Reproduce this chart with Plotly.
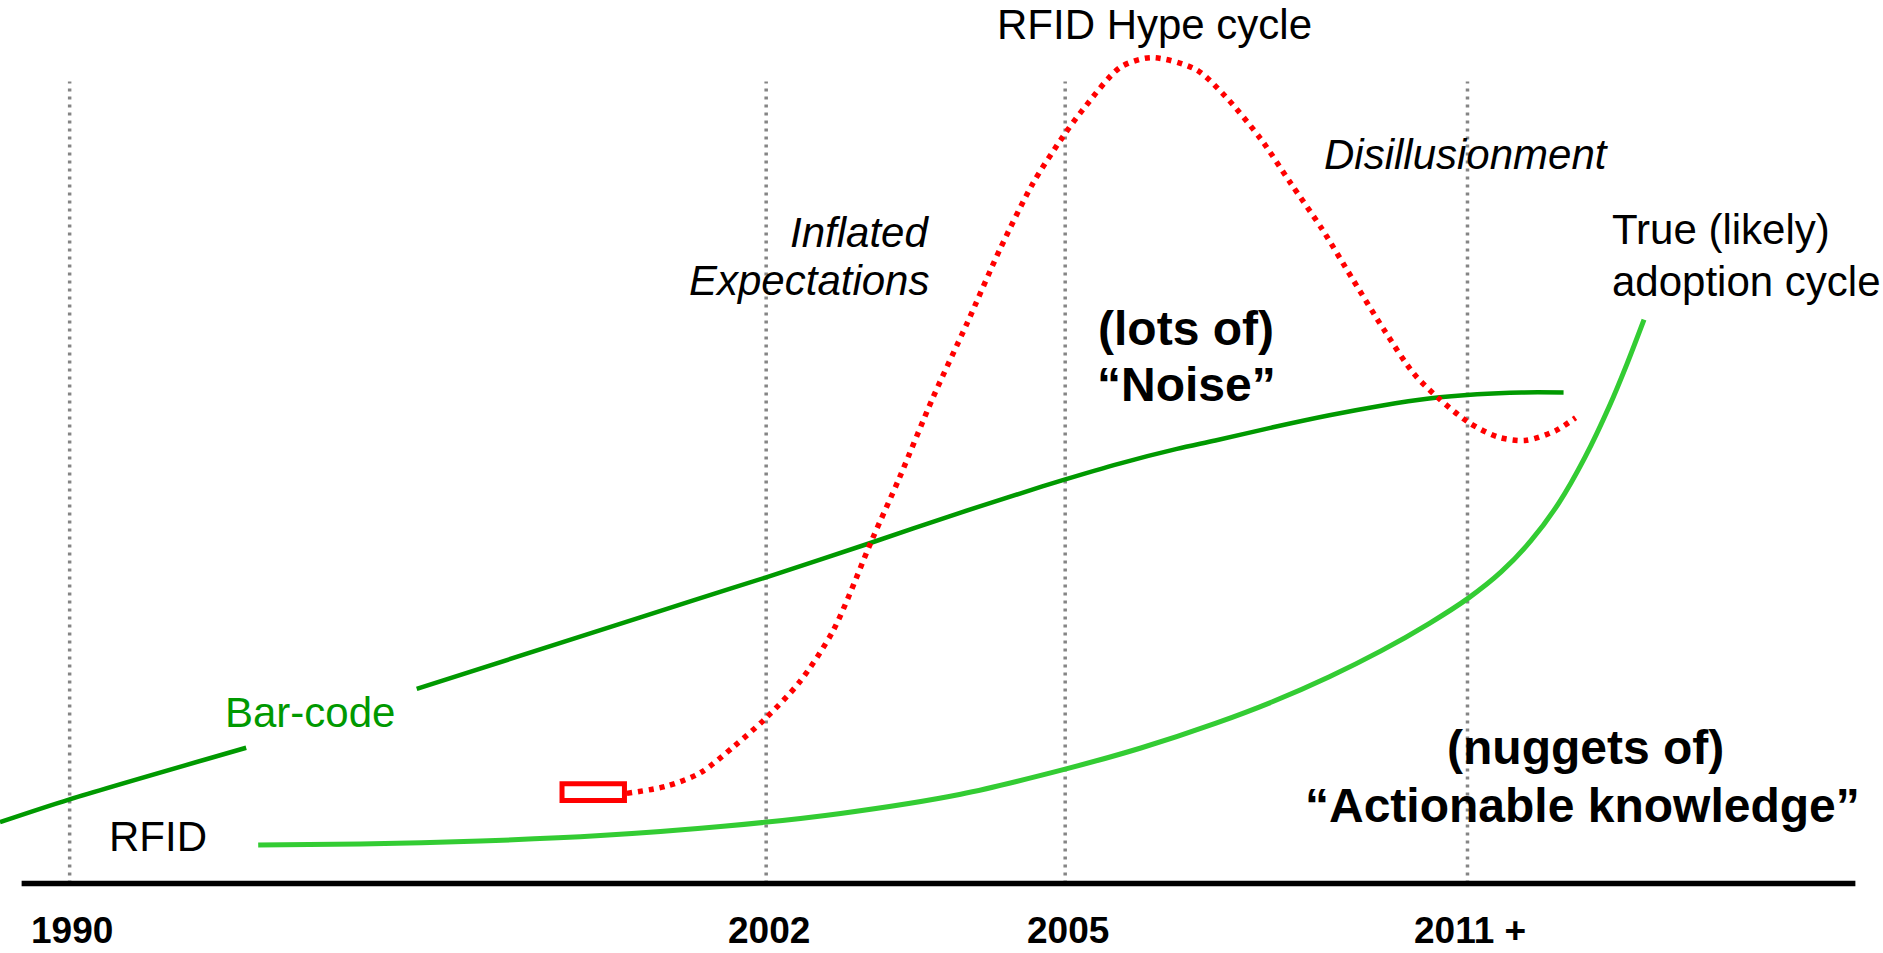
import plotly.graph_objects as go

# ---- timeline (x positions along the slide's time axis) ----
tick_pos = [58, 638, 887, 1222]
tick_labels = ["1990", "2002", "2005", "2011 +"]

# ---- Bar-code adoption curve (gap where its label sits) ----
barcode_x = [0, 58, 205, None, 347, 500, 578, 638, 726, 800, 850, 885, 933, 980, 1012, 1060, 1107,
             1150, 1190, 1230, 1267, 1302]
barcode_y = [109, 128, 171, None, 220, 269, 294, 313, 342, 367, 383, 394, 408, 420, 427, 438, 448,
             456, 462, 465.5, 467, 467]

# ---- RFID hype cycle (red dotted) ----
hype_x = [522, 555, 583, 611, 637, 666, 694, 726, 749, 777, 805, 833, 860, 885, 902, 933, 959, 996,
          1021, 1050, 1075, 1101, 1126, 1152, 1177, 1197, 1223, 1247, 1270, 1295, 1312]
hype_y = [133, 139, 150, 172, 195, 226, 269, 344, 396, 463, 524, 587, 641, 680, 703, 738, 746, 736,
          713, 678, 641, 603, 562, 520, 483, 463, 442, 430, 427, 435, 446]

# ---- RFID true (likely) adoption cycle (light green) ----
adopt_x = [215, 300, 400, 500, 600, 700, 800, 887, 950, 1012, 1060, 1107, 1150, 1190, 1223, 1250,
           1275, 1298, 1320, 1340, 1355, 1369]
adopt_y = [90, 90.8, 93.3, 97.8, 105.3, 116.3, 132.3, 153.2, 170.8, 191.3, 209.5, 230.2, 251.7, 274.5,
           295.9, 317.5, 343.7, 374.8, 413.3, 455.3, 491.3, 527.7]

# ---- hype-cycle start marker box ----
start_box_x = [468, 520]
start_box_y = [127, 141]

# ---- frame values ----
x_range = [0, 1568]
y_range = [0, 794]
baseline_level = 58
baseline_x = [18, 1545]
guide_top = 726

# ---- text labels: (x, y, text, xanchor, kind) ----
labels = [
    (961, 774, "RFID Hype cycle", "center", "regular"),
    (1221, 665.5, "Disillusionment", "center", "italic"),
    (775, 600.5, "Inflated", "right", "italic"),
    (775, 560.5, "Expectations", "right", "italic"),
    (1341, 603, "True (likely)", "left", "regular"),
    (1341, 559.5, "adoption cycle", "left", "regular"),
    (988, 520.5, "(lots of)", "center", "bold"),
    (988, 473.5, "\u201cNoise\u201d", "center", "bold"),
    (1320, 171, "(nuggets of)", "center", "bold"),
    (1318, 123, "\u201cActionable knowledge\u201d", "center", "bold"),
    (131.5, 97, "RFID", "center", "regular"),
]
barcode_label = (258, 200, "Bar-code")
tick_label_level = 19

FONT = "Liberation Sans, Arial, sans-serif"
DARK_GREEN = "#009900"
LIGHT_GREEN = "#33cc33"
RED = "#ff0000"
GRAY = "#858585"

fig = go.Figure()

fig.add_trace(go.Scatter(x=barcode_x, y=barcode_y, mode="lines", connectgaps=False,
                         line=dict(color=DARK_GREEN, width=4.5, shape="spline", smoothing=0.8),
                         hoverinfo="skip"))
fig.add_trace(go.Scatter(x=adopt_x, y=adopt_y, mode="lines",
                         line=dict(color=LIGHT_GREEN, width=5, shape="spline", smoothing=0.8),
                         hoverinfo="skip"))
fig.add_trace(go.Scatter(x=hype_x, y=hype_y, mode="lines",
                         line=dict(color=RED, width=5.5, dash="5px,6px", shape="spline", smoothing=0.8),
                         hoverinfo="skip"))

# vertical dotted guides at each timeline tick
for xp in tick_pos:
    fig.add_shape(type="line", x0=xp, x1=xp, y0=baseline_level, y1=guide_top,
                  line=dict(color=GRAY, width=3.5, dash="3px,5px"), layer="below")

# baseline (time axis)
fig.add_shape(type="line", x0=baseline_x[0], x1=baseline_x[1], y0=baseline_level, y1=baseline_level,
              line=dict(color="black", width=5.5), layer="above")

# start box of hype curve
fig.add_shape(type="rect", x0=start_box_x[0], x1=start_box_x[1], y0=start_box_y[0], y1=start_box_y[1],
              line=dict(color=RED, width=5), fillcolor="white", layer="above")

styles = {
    "regular": dict(family=FONT, size=42, color="black"),
    "italic": dict(family=FONT, size=42, color="black", style="italic"),
    "bold": dict(family=FONT, size=48, color="black", weight="bold"),
}
for x, y, t, xa, kind in labels:
    fig.add_annotation(x=x, y=y, text=t, showarrow=False, xanchor=xa, yanchor="middle",
                       font=styles[kind])

fig.add_annotation(x=barcode_label[0], y=barcode_label[1], text=barcode_label[2], showarrow=False,
                   xanchor="center", yanchor="middle",
                   font=dict(family=FONT, size=42, color=DARK_GREEN))

for xp, lab in zip(tick_pos, tick_labels):
    fig.add_annotation(x=xp + 2, y=tick_label_level, text=lab, showarrow=False, xanchor="center",
                       yanchor="middle", font=dict(family=FONT, size=37, color="black", weight="bold"))

fig.update_layout(
    width=1883, height=953,
    margin=dict(l=0, r=0, t=0, b=0),
    paper_bgcolor="white", plot_bgcolor="white",
    showlegend=False,
    xaxis=dict(range=x_range, visible=False, fixedrange=True),
    yaxis=dict(range=y_range, visible=False, fixedrange=True),
)

fig.write_html("out.html", config={"displayModeBar": False},
               post_script="document.body.style.margin='0';document.body.style.overflow='hidden';")
